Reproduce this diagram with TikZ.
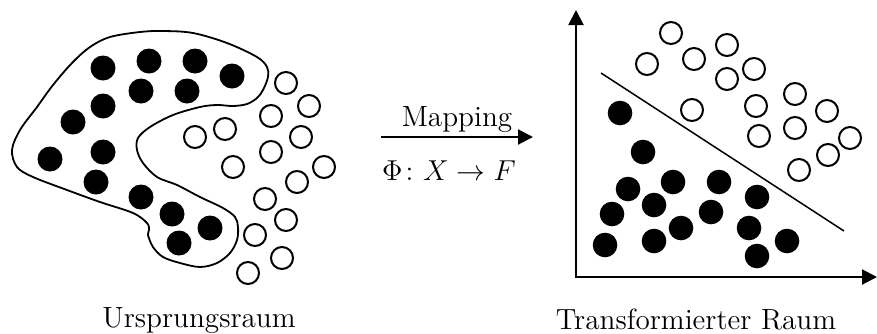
\documentclass[tikz,border=0pt]{standalone}
\usepackage{amsmath,amssymb}
\usepackage{tikz}
\usetikzlibrary{arrows.meta}

\begin{document}
\begin{tikzpicture}[x=0.5pt,y=-0.5pt,
    dotfull/.style={fill=black},
    dotopen/.style={draw=black,line width=1pt,fill=white},
    axisarrow/.style={line width=1pt,-{Triangle[length=7.5pt,width=7.5pt]}},
    label/.style={inner sep=0pt,anchor=base,font=\fontsize{14.6}{17}\selectfont}]
  \useasboundingbox (0,0) rectangle (877,333);

  % Ursprungsraum: Umrandung der schwarzen Klasse
  \draw[line width=0.9pt] plot[smooth cycle,tension=0.55] coordinates {
    (12,150) (20,130) (37,107) (53,85) (72,63) (90,47) (110,37) (140,32)
    (163,31) (193,33) (227,43) (257,57) (267,67) (268,77) (263,90) (257,98)
    (247,104) (233,106) (217,105) (200,107) (173,115) (150,127) (138,138)
    (137,150) (143,163) (157,177) (177,185) (200,197) (223,208) (235,217)
    (238,227) (237,240) (230,253) (217,263) (200,267) (180,263) (163,257)
    (153,247) (148,235) (149,230) (147,223) (133,213) (100,202) (67,190)
    (33,177) (17,167)};
  \foreach \x/\y in {103/68,149/61,195/61,232/76,141/91,187/91,103/106,73/122,
      103/152,50/159,96/182,141/197,172/214,210/228,179/243}
    \fill[dotfull] (\x,\y) circle (12.5);
  \foreach \x/\y in {286/83,309/106,271/116,225/129,195/137,301/137,271/152,
      233/167,324/167,297/182,265/199,286/220,255/235,282/258,248/273}
    \draw[dotopen] (\x,\y) circle (11);
  \node[label] (ursprung) at (199,327) {Ursprungsraum};

  % Abbildung
  \coordinate (mapfrom) at (381,137);
  \coordinate (mapto) at (533,137);
  \draw[axisarrow] (mapfrom) -- (mapto);
  \node[label] (mapping) at (457,126) {Mapping};
  \node[label] (phi) at (449,180) {$\Phi\colon X\rightarrow F$};

  % Transformierter Raum
  \coordinate (origin) at (576,277);
  \coordinate (ytop) at (576,10);
  \coordinate (xend) at (877,277);
  \draw[axisarrow,{Triangle[length=7.5pt,width=7.5pt]}-{Triangle[length=7.5pt,width=7.5pt]}]
    (ytop) -- (origin) -- (xend);
  \coordinate (sepa) at (601,73);
  \coordinate (sepb) at (844,231);
  \draw[line width=0.75pt] (sepa) -- (sepb);
  \foreach \x/\y in {620/113,643/152,628/189,673/182,719/182,757/197,654/205,
      612/214,711/212,681/228,749/228,605/245,654/241,787/241,757/256}
    \fill[dotfull] (\x,\y) circle (12.3);
  \foreach \x/\y in {671/33,647/64,694/59,727/45,754/69,727/79,692/110,756/106,
      795/94,827/111,759/136,795/128,850/138,828/155,799/170}
    \draw[dotopen] (\x,\y) circle (11);
  \node[label] (transformiert) at (696,329) {Transformierter Raum};
\end{tikzpicture}
\end{document}
